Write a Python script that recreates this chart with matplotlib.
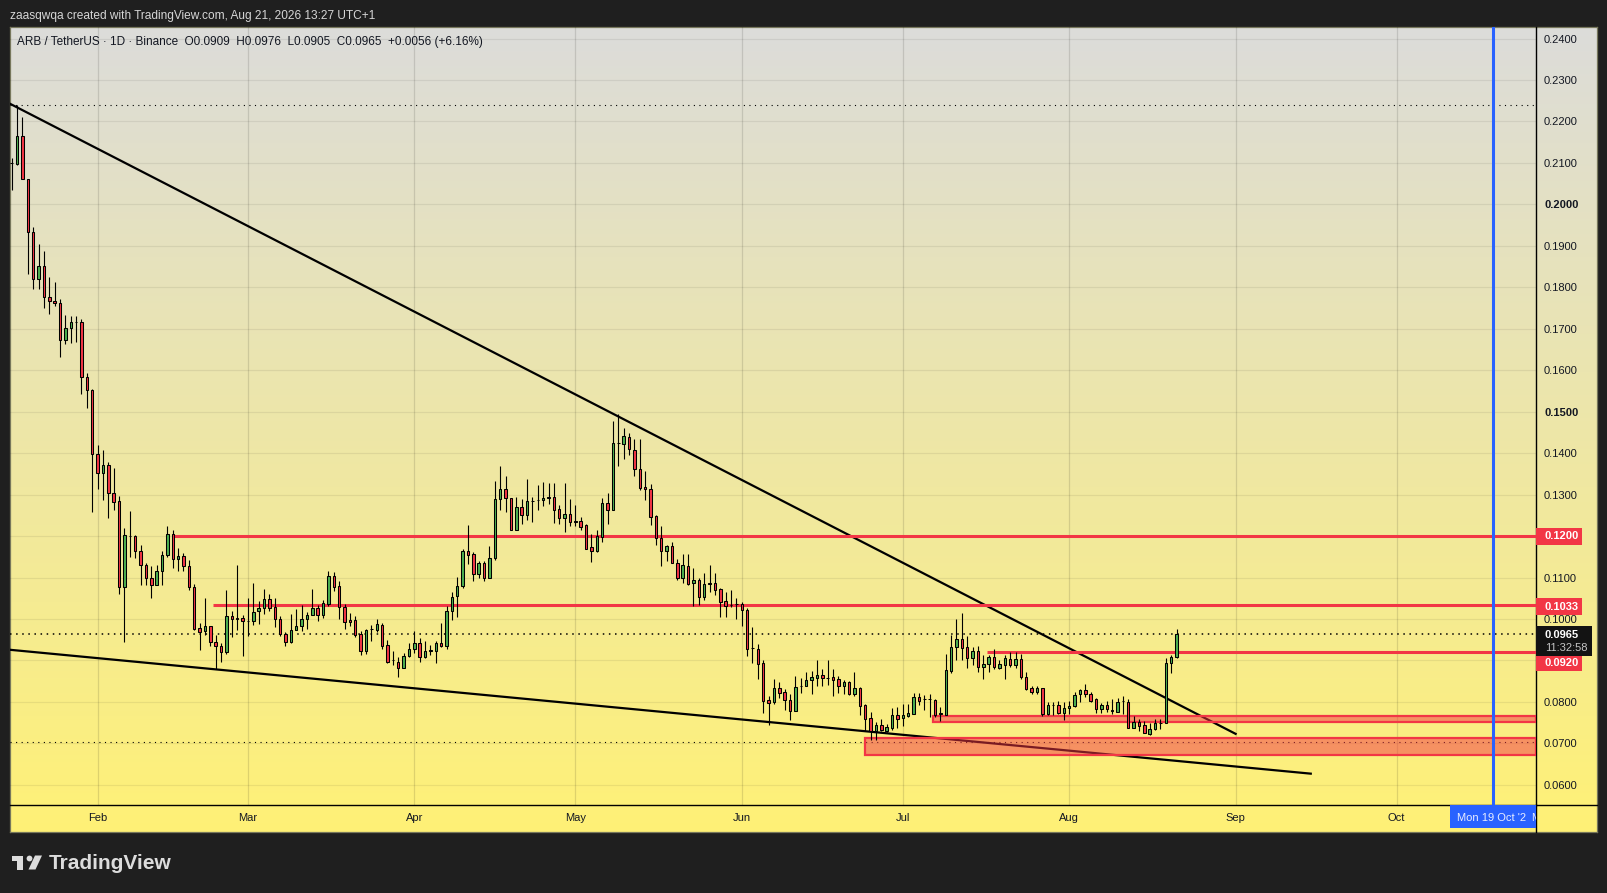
import matplotlib.pyplot as plt
import matplotlib.dates as mdates
import numpy as np
import pandas as pd
from matplotlib.patches import Rectangle, Polygon, Circle

W, H = 1608, 893
plt.rcParams['font.family'] = ['Liberation Sans', 'DejaVu Sans']

# daily candles, 16 Jan to 21 Aug
first_day = '2026-01-16'
opens = [
    .2100, .2097, .2165, .2061, .1933, .1820, .1851, .1777, .1768, .1762,
    .1672, .1702, .1716, .1716, .1583, .1553, .1399, .1351, .1371, .1304,
    .1284, .1076, .1200, .1201, .1163, .1130, .1098, .1083, .1116, .1154,
    .1205, .1145, .1152, .1128, .1077, .0979, .0970, .0984, .0945, .0936,
    .0920, .1007, .1002, .1002, .0995, .0994, .1019, .1027, .1049, .1029,
    .1000, .0965, .0945, .0974, .0982, .1000, .1009, .1027, .1010, .1037,
    .1104, .1080, .1029, .0998, .0998, .0965, .0924, .0975, .0974, .0986,
    .0937, .0901, .0896, .0883, .0910, .0927, .0942, .0908, .0924, .0924,
    .0942, .0936, .1019, .1055, .1079, .1164, .1157, .1108, .1135, .1100,
    .1148, .1289, .1313, .1292, .1214, .1270, .1252, .1284, .1287, .1286,
    .1294, .1294, .1265, .1243, .1253, .1235, .1236, .1227, .1173, .1163,
    .1198, .1280, .1264, .1424, .1423, .1439, .1407, .1362, .1318, .1313,
    .1249, .1195, .1163, .1176, .1135, .1100, .1128, .1086, .1094, .1054,
    .1087, .1087, .1073, .1044, .1033, .1035, .1036, .1022, .0929, .0927,
    .0893, .0805, .0800, .0833, .0823, .0804, .0777, .0838, .0839, .0854,
    .0858, .0864, .0858, .0859, .0855, .0839, .0847, .0818, .0834, .0792,
    .0761, .0731, .0744, .0731, .0737, .0769, .0761, .0766, .0772, .0812,
    .0806, .0806, .0805, .0772, .0769, .0875, .0932, .0951, .0932, .0905,
    .0924, .0885, .0891, .0908, .0883, .0890, .0904, .0890, .0904, .0861,
    .0834, .0824, .0833, .0770, .0793, .0792, .0774, .0785, .0789, .0818,
    .0828, .0819, .0807, .0784, .0793, .0780, .0776, .0803, .0799, .0738,
    .0751, .0745, .0723, .0734, .0750, .0750, .0893, .0909]
highs = [
    .2112, .2240, .2212, .2061, .1945, .1905, .1888, .1825, .1813, .1773,
    .1734, .1732, .1732, .1723, .1593, .1555, .1420, .1408, .1378, .1365,
    .1297, .1219, .1261, .1202, .1178, .1134, .1128, .1130, .1165, .1225,
    .1215, .1171, .1159, .1142, .1084, .0990, .1051, .0984, .0962, .0942,
    .1071, .1020, .1131, .1010, .1051, .1088, .1044, .1073, .1060, .1051,
    .1008, .0968, .1013, .1023, .1034, .1017, .1073, .1034, .1046, .1117,
    .1113, .1092, .1037, .1014, .1008, .0970, .0977, .0986, .1000, .0990,
    .0950, .0924, .0908, .0919, .0941, .0970, .0954, .0947, .0937, .0947,
    .0990, .1032, .1065, .1101, .1168, .1227, .1162, .1139, .1139, .1177,
    .1334, .1370, .1345, .1292, .1294, .1290, .1338, .1294, .1324, .1331,
    .1329, .1328, .1275, .1329, .1290, .1276, .1247, .1228, .1205, .1214,
    .1292, .1305, .1477, .1494, .1460, .1448, .1434, .1434, .1357, .1325,
    .1251, .1225, .1179, .1186, .1145, .1157, .1157, .1124, .1100, .1112,
    .1131, .1112, .1075, .1066, .1070, .1050, .1042, .1026, .0981, .0940,
    .0901, .0815, .0855, .0848, .0831, .0818, .0862, .0857, .0871, .0875,
    .0901, .0879, .0901, .0879, .0862, .0852, .0850, .0871, .0836, .0795,
    .0775, .0752, .0760, .0747, .0785, .0787, .0795, .0795, .0822, .0822,
    .0817, .0819, .0807, .0787, .0916, .0961, .1000, .1015, .0958, .0933,
    .0936, .0914, .0914, .0928, .0902, .0914, .0920, .0921, .0916, .0871,
    .0839, .0838, .0833, .0799, .0799, .0803, .0799, .0803, .0825, .0831,
    .0843, .0823, .0810, .0797, .0803, .0807, .0809, .0815, .0807, .0766,
    .0759, .0754, .0750, .0758, .0758, .0906, .0914, .0976]
lows = [
    .2034, .2094, .2061, .1831, .1796, .1796, .1750, .1735, .1754, .1633,
    .1664, .1665, .1669, .1542, .1510, .1257, .1314, .1286, .1244, .1263,
    .1061, .0944, .1149, .1147, .1082, .1082, .1050, .1081, .1083, .1149,
    .1122, .1117, .1115, .1069, .0973, .0926, .0961, .0934, .0880, .0897,
    .0915, .0956, .0974, .0910, .0958, .0986, .0987, .1012, .1019, .0980,
    .0958, .0934, .0943, .0973, .0972, .0975, .1009, .0994, .1002, .1032,
    .1067, .1001, .0977, .0984, .0957, .0912, .0915, .0946, .0969, .0927,
    .0895, .0888, .0859, .0883, .0908, .0919, .0897, .0907, .0914, .0895,
    .0933, .0927, .0997, .1006, .1075, .1132, .1091, .1100, .1091, .1100,
    .1143, .1262, .1259, .1214, .1214, .1228, .1239, .1235, .1262, .1273,
    .1278, .1232, .1230, .1209, .1225, .1225, .1215, .1168, .1138, .1161,
    .1185, .1230, .1264, .1368, .1386, .1396, .1344, .1311, .1286, .1226,
    .1179, .1127, .1141, .1135, .1095, .1086, .1081, .1032, .1034, .1046,
    .1064, .1057, .1005, .1005, .1030, .1001, .0984, .0910, .0893, .0855,
    .0774, .0744, .0795, .0809, .0781, .0756, .0777, .0822, .0838, .0819,
    .0838, .0838, .0841, .0815, .0822, .0819, .0817, .0815, .0768, .0729,
    .0707, .0707, .0729, .0727, .0732, .0737, .0743, .0764, .0771, .0793,
    .0781, .0763, .0763, .0755, .0769, .0869, .0902, .0902, .0883, .0890,
    .0871, .0856, .0873, .0879, .0879, .0856, .0885, .0883, .0856, .0829,
    .0819, .0819, .0767, .0768, .0768, .0770, .0757, .0770, .0788, .0801,
    .0813, .0801, .0773, .0773, .0776, .0771, .0775, .0771, .0736, .0738,
    .0729, .0725, .0721, .0733, .0735, .0750, .0869, .0905]
closes = [
    .2100, .2165, .2061, .1933, .1820, .1851, .1777, .1767, .1761, .1672,
    .1702, .1716, .1716, .1583, .1552, .1399, .1351, .1371, .1304, .1282,
    .1076, .1202, .1200, .1163, .1130, .1098, .1081, .1116, .1154, .1205,
    .1145, .1152, .1127, .1076, .0977, .0968, .0984, .0944, .0934, .0920,
    .1008, .0999, .0999, .0994, .0995, .1017, .1027, .1048, .1027, .1000,
    .0965, .0945, .0973, .0983, .1000, .1010, .1027, .1009, .1039, .1104,
    .1077, .1029, .0992, .0992, .0961, .0924, .0973, .0975, .0988, .0936,
    .0897, .0901, .0883, .0911, .0928, .0942, .0908, .0923, .0924, .0942,
    .0936, .1019, .1053, .1080, .1165, .1154, .1108, .1135, .1100, .1147,
    .1289, .1313, .1291, .1214, .1270, .1252, .1284, .1284, .1287, .1292,
    .1291, .1264, .1243, .1253, .1235, .1235, .1223, .1170, .1163, .1201,
    .1280, .1264, .1424, .1424, .1441, .1409, .1362, .1317, .1313, .1247,
    .1195, .1163, .1177, .1135, .1100, .1131, .1085, .1094, .1054, .1084,
    .1084, .1071, .1042, .1031, .1033, .1035, .1021, .0927, .0929, .0891,
    .0803, .0798, .0833, .0822, .0804, .0777, .0835, .0838, .0852, .0859,
    .0864, .0857, .0858, .0854, .0839, .0847, .0818, .0833, .0791, .0760,
    .0731, .0744, .0732, .0739, .0769, .0759, .0768, .0773, .0812, .0802,
    .0806, .0806, .0769, .0772, .0877, .0932, .0951, .0930, .0905, .0923,
    .0885, .0891, .0908, .0884, .0891, .0905, .0890, .0904, .0861, .0832,
    .0824, .0834, .0770, .0793, .0793, .0774, .0785, .0790, .0816, .0828,
    .0820, .0803, .0784, .0793, .0784, .0778, .0799, .0803, .0738, .0751,
    .0743, .0726, .0734, .0749, .0750, .0893, .0908, .0965]

price_ticks = [.06, .07, .08, .09, .10, .11, .12, .13, .14, .15, .16, .17, .18,
               .19, .20, .21, .22, .23, .24]
month_starts = ['2026-02-01', '2026-03-01', '2026-04-01', '2026-05-01', '2026-06-01',
                '2026-07-01', '2026-08-01', '2026-09-01', '2026-10-01']
month_names = ['Feb', 'Mar', 'Apr', 'May', 'Jun', 'Jul', 'Aug', 'Sep', 'Oct']

# drawings on the chart
upper_trend_dates = ['2026-01-15 12:00', '2026-09-01']
upper_trend_prices = [.2244, .0723]
lower_trend_dates = ['2026-01-15 12:00', '2026-09-15']
lower_trend_prices = [.0926, .0627]
level_prices = [.1200, .1033, .0920]
level_starts = ['2026-02-15', '2026-02-22 12:00', '2026-07-16 16:00']
zone_tops = [.07665, .0713]
zone_bottoms = [.0752, .0671]
zone_starts = ['2026-07-06 16:00', '2026-06-23 22:00']
high_price, low_price, last_price = .2240, .0703, .0965
marker_date = '2026-10-19'

BG = '#1f1f1f'
RED = '#f23645'
GREEN = '#4caf50'
BLUE = '#2962ff'
L, R, T, B = 10, 1535.7, 27, 805
PANE_R, PANE_B = 1597, 832


def rect(x0, y0, x1, y1):
    return [x0 / W, 1 - y1 / H, (x1 - x0) / W, (y1 - y0) / H]


def num(d):
    return mdates.date2num(pd.Timestamp(d))


fig = plt.figure(figsize=(W / 100, H / 100), dpi=100, facecolor=BG)

# pane background, grey at the top going to yellow
pane = fig.add_axes(rect(L, T, PANE_R, PANE_B))
top_col = np.array([220, 220, 218]) / 255
bot_col = np.array([255, 241, 118]) / 255
t = np.linspace(0, 1, 400)[:, None, None]
pane.imshow(top_col * (1 - t) + bot_col * t, aspect='auto', extent=(0, 1, 0, 1))
pane.set_xticks([])
pane.set_yticks([])
for s in pane.spines.values():
    s.set_color('#77775c')
    s.set_linewidth(0.9)

ax = fig.add_axes(rect(L, T, R, B))
ax.patch.set_alpha(0)
x0 = num('2026-02-01') + (L - 97.6) / 5.368
x1 = num('2026-02-01') + (R - 97.6) / 5.368
ax.set_xlim(x0, x1)
ax.set_ylim(.05514, .24279)

for s in ['top', 'left']:
    ax.spines[s].set_visible(False)
for s in ['right', 'bottom']:
    ax.spines[s].set_color('black')
    ax.spines[s].set_linewidth(1)

ax.yaxis.tick_right()
ax.set_yticks(price_ticks)
ax.set_yticklabels(['%.4f' % p for p in price_ticks], fontsize=8, color='#131722')
for lab, p in zip(ax.get_yticklabels(), price_ticks):
    if p in (.15, .20):
        lab.set_fontweight('bold')
ax.set_xticks([num(d) for d in month_starts])
ax.set_xticklabels(month_names, fontsize=8, color='#131722')
ax.tick_params(length=0, axis='y', pad=6)
ax.tick_params(length=0, axis='x', pad=6)
ax.grid(axis='y', color='black', alpha=0.07, lw=0.9, zorder=0)
ax.grid(axis='x', color='black', alpha=0.12, lw=0.9, zorder=0)
ax.set_axisbelow(True)

# trend lines sit under the zones and levels
ax.plot([num(d) for d in upper_trend_dates], upper_trend_prices, color='black', lw=1.6, zorder=2)
ax.plot([num(d) for d in lower_trend_dates], lower_trend_prices, color='black', lw=1.6, zorder=2)

for price in (high_price, low_price):
    ax.axhline(price, color='black', lw=0.8, ls=(0, (1, 4)), zorder=2)
ax.axhline(last_price, color='black', lw=1.1, ls=(0, (1, 3)), zorder=2)

for top, bot, start in zip(zone_tops, zone_bottoms, zone_starts):
    ax.add_patch(Rectangle((num(start), bot), x1 - num(start), top - bot,
                           facecolor=(242 / 255, 54 / 255, 69 / 255, 0.5),
                           edgecolor=RED, lw=1.6, zorder=3))
for price, start in zip(level_prices, level_starts):
    ax.plot([num(start), x1], [price, price], color=RED, lw=2.2, zorder=3,
            solid_capstyle='butt')

ax.axvline(num(marker_date), color=BLUE, lw=2.2, zorder=3)

# candles
dates = mdates.date2num(pd.date_range(first_day, periods=len(opens)))
o = np.array(opens)
c = np.array(closes)
body_bot = np.minimum(o, c)
body_h = np.maximum(np.abs(c - o), .00003)
cols = [GREEN if cc >= oo else RED for oo, cc in zip(o, c)]
ax.vlines(dates, lows, highs, color='black', lw=0.8, zorder=5)
ax.bar(dates, body_h, bottom=body_bot, width=.46, color=cols, edgecolor='black',
       linewidth=0.75, zorder=6)

# everything around the chart, in pixels
ov = fig.add_axes([0, 0, 1, 1], zorder=10)
ov.set_xlim(0, W)
ov.set_ylim(H, 0)
ov.axis('off')

ov.plot([R, R], [B, PANE_B], color='black', lw=1)
ov.plot([R, PANE_R], [B, B], color='black', lw=1)

ov.text(10, 15.5, 'zaasqwqa created with TradingView.com, Aug 21, 2026 13:27 UTC+1',
        color='#d6d6d6', fontsize=8.6, va='center')
ov.text(17.5, 42, 'ARB / TetherUS · 1D · Binance  O0.0909  H0.0976  L0.0905  C0.0965  +0.0056 (+6.16%)',
        color='#131722', fontsize=8.45, va='center')


def tag(y0, y1, text, xr=1582):
    ov.add_patch(Rectangle((R, y0), xr - R, y1 - y0, facecolor=RED, edgecolor='none', zorder=3))
    ov.text(1545, (y0 + y1) / 2, text, color='white', fontsize=8, fontweight='bold',
            va='center', zorder=4)


tag(528, 544.7, '0.1200')
tag(598, 615, '0.1033')
tag(655, 671, '0.0920')
ov.add_patch(Rectangle((R, 626), 1592 - R, 30, facecolor='#131313', edgecolor='none', zorder=5))
ov.text(1545, 635, '0.0965', color='white', fontsize=8, fontweight='bold', va='center', zorder=6)
ov.text(1545, 648, '11:32:58', color='#c4c4c4', fontsize=8, va='center', zorder=6)

# date label of the blue line, cut off at the price scale
date_box = Rectangle((1450, B), R - 1450, 22.7, facecolor=BLUE, edgecolor='none', zorder=3)
ov.add_patch(date_box)
ov.text(1457.5, 818, "Mon 19 Oct '2", color='#e8edff', fontsize=8, va='center', zorder=4)
date_txt = ov.text(1531.5, 818, 'Mon', color='#e8edff', fontsize=8, va='center', zorder=4,
                   clip_on=True)
date_txt.set_clip_path(date_box)

# logo
logo = '#dcdcdc'
ov.add_patch(Polygon([(12, 855.5), (23.5, 855.5), (23.5, 869.5), (17.5, 869.5), (17.5, 861), (12, 861)],
                     facecolor=logo, edgecolor='none'))
ov.add_patch(Circle((29.5, 858.5), 2.9, facecolor=logo, edgecolor='none'))
ov.add_patch(Polygon([(35, 855.5), (42, 855.5), (35.5, 869.5), (28.5, 869.5)],
                     facecolor=logo, edgecolor='none'))
ov.text(49, 863.5, 'TradingView', color=logo, fontsize=15, fontweight='bold', va='center')

fig.savefig('out.png', dpi=100, facecolor=BG)
